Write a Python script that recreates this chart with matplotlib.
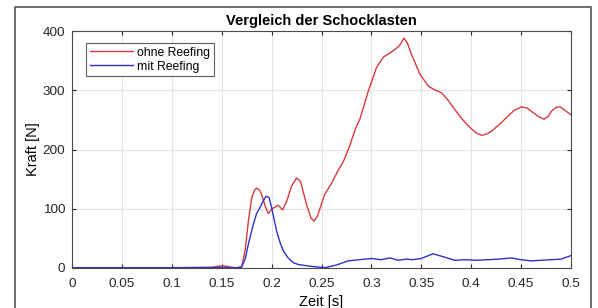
import numpy as np
import matplotlib
matplotlib.use("Agg")
import matplotlib.pyplot as plt
from matplotlib.lines import Line2D

# ─── Data ─────────────────────────────────────────────────────────────────────
t_ohne = [0.0, 0.05, 0.10, 0.14, 0.145, 0.150, 0.155, 0.160, 0.165, 0.170,
          0.1735, 0.1767, 0.180, 0.183, 0.185, 0.188, 0.190, 0.1935, 0.1967,
          0.200, 0.2035, 0.2067, 0.211, 0.215, 0.220, 0.225, 0.229, 0.235,
          0.2395, 0.2425, 0.246, 0.2532, 0.260, 0.2665, 0.272, 0.278, 0.284,
          0.2886, 0.297, 0.305, 0.312, 0.3186, 0.3236, 0.328, 0.3327, 0.336,
          0.340, 0.3487, 0.357, 0.363, 0.370, 0.376, 0.382, 0.390, 0.3988,
          0.405, 0.4105, 0.4155, 0.4205, 0.428, 0.4355, 0.443, 0.4506, 0.456,
          0.4622, 0.468, 0.473, 0.477, 0.4806, 0.485, 0.489, 0.494, 0.4997]
f_ohne = [0.5, 0.5, 0.5, 1.0, 2.5, 4.0, 3.0, 1.0, 0.3, 1.5,
          30, 79, 118, 132, 135, 131, 124, 105, 92,
          99, 103, 106, 98, 112, 138, 152, 146, 107,
          84, 79, 88, 124, 143, 164, 180, 205, 235,
          252, 299, 338, 356, 363, 369, 375, 388, 380,
          361, 327, 307, 301, 296, 285, 271, 253, 237,
          228, 224, 226, 231, 242, 254, 266, 272, 270,
          262, 255, 251, 256, 265, 271, 272, 266, 259]

t_mit = [0.0, 0.05, 0.10, 0.15, 0.165, 0.170, 0.1735, 0.1767, 0.1817,
         0.1850, 0.1884, 0.1915, 0.1944, 0.1975, 0.200, 0.2025, 0.2051,
         0.2085, 0.2117, 0.2165, 0.2217, 0.2265, 0.2385, 0.2532, 0.265,
         0.2766, 0.288, 0.300, 0.310, 0.3186, 0.3267, 0.335, 0.341, 0.350,
         0.3617, 0.372, 0.3835, 0.395, 0.405, 0.4168, 0.428, 0.4402, 0.450,
         0.460, 0.470, 0.480, 0.490, 0.500]
f_mit = [0.5, 0.5, 0.5, 1.0, 0.5, 2.0, 15, 40, 74,
         92, 102, 113, 121, 119, 102, 82, 62,
         43, 29, 17, 9, 6, 3, 0.5, 5,
         12, 14, 16, 14, 17, 13, 15, 14, 16,
         24, 19, 13, 14, 13, 14, 15, 17, 14,
         12, 13, 14, 15, 21]

xticks = [0, 0.05, 0.1, 0.15, 0.2, 0.25, 0.3, 0.35, 0.4, 0.45, 0.5]
xtick_labels = ["0", "0.05", "0.1", "0.15", "0.2", "0.25", "0.3", "0.35",
                "0.4", "0.45", "0.5"]
yticks = [0, 100, 200, 300, 400]

# ─── Figure ───────────────────────────────────────────────────────────────────
plt.rcParams["font.family"] = ["Liberation Sans", "DejaVu Sans"]

fig = plt.figure(figsize=(5.98, 3.08), dpi=100)
ax = fig.add_axes([72 / 598, 1 - 268 / 308, 499 / 598, 237 / 308])

ax.plot(t_ohne, f_ohne, color="#d63a3e", lw=1.0, label="ohne Reefing")
ax.plot(t_mit, f_mit, color="#3030cc", lw=1.0, label="mit Reefing")

ax.set_xlim(0, 0.5)
ax.set_ylim(0, 400)
ax.set_xticks(xticks)
ax.set_xticklabels(xtick_labels)
ax.set_yticks(yticks)
ax.grid(True, color="#e3e3e3", lw=0.8)
ax.set_axisbelow(True)
ax.tick_params(direction="in", length=3, top=True, right=True,
               labelsize=9.7, colors="#262626", pad=5)
ax.tick_params(axis="x", pad=7)
for s in ax.spines.values():
    s.set_color("#4a4a4a")
    s.set_linewidth(0.8)

ax.set_title("Vergleich der Schocklasten", fontsize=10.5, fontweight="bold",
             pad=4)
ax.set_xlabel("Zeit [s]", fontsize=10.5, labelpad=4)
ax.set_ylabel("Kraft [N]", fontsize=10.5, labelpad=2)

leg = ax.legend(loc="upper left", fontsize=8.8, frameon=True, fancybox=False,
                borderpad=0.3, handlelength=3.5, handletextpad=0.4,
                labelspacing=0.15, bbox_to_anchor=(0.016, 0.975))
leg.get_frame().set_edgecolor("#333333")
leg.get_frame().set_linewidth(0.8)

# outer frame of the screenshot
fx0, fx1, fy1 = 15 / 598, 591 / 598, 1 - 7 / 308
fig.add_artist(Line2D([fx0, fx0, fx1, fx1], [0, fy1, fy1, 0],
                      transform=fig.transFigure, color="#555555", lw=1.2))

fig.savefig("out.png", dpi=100)
